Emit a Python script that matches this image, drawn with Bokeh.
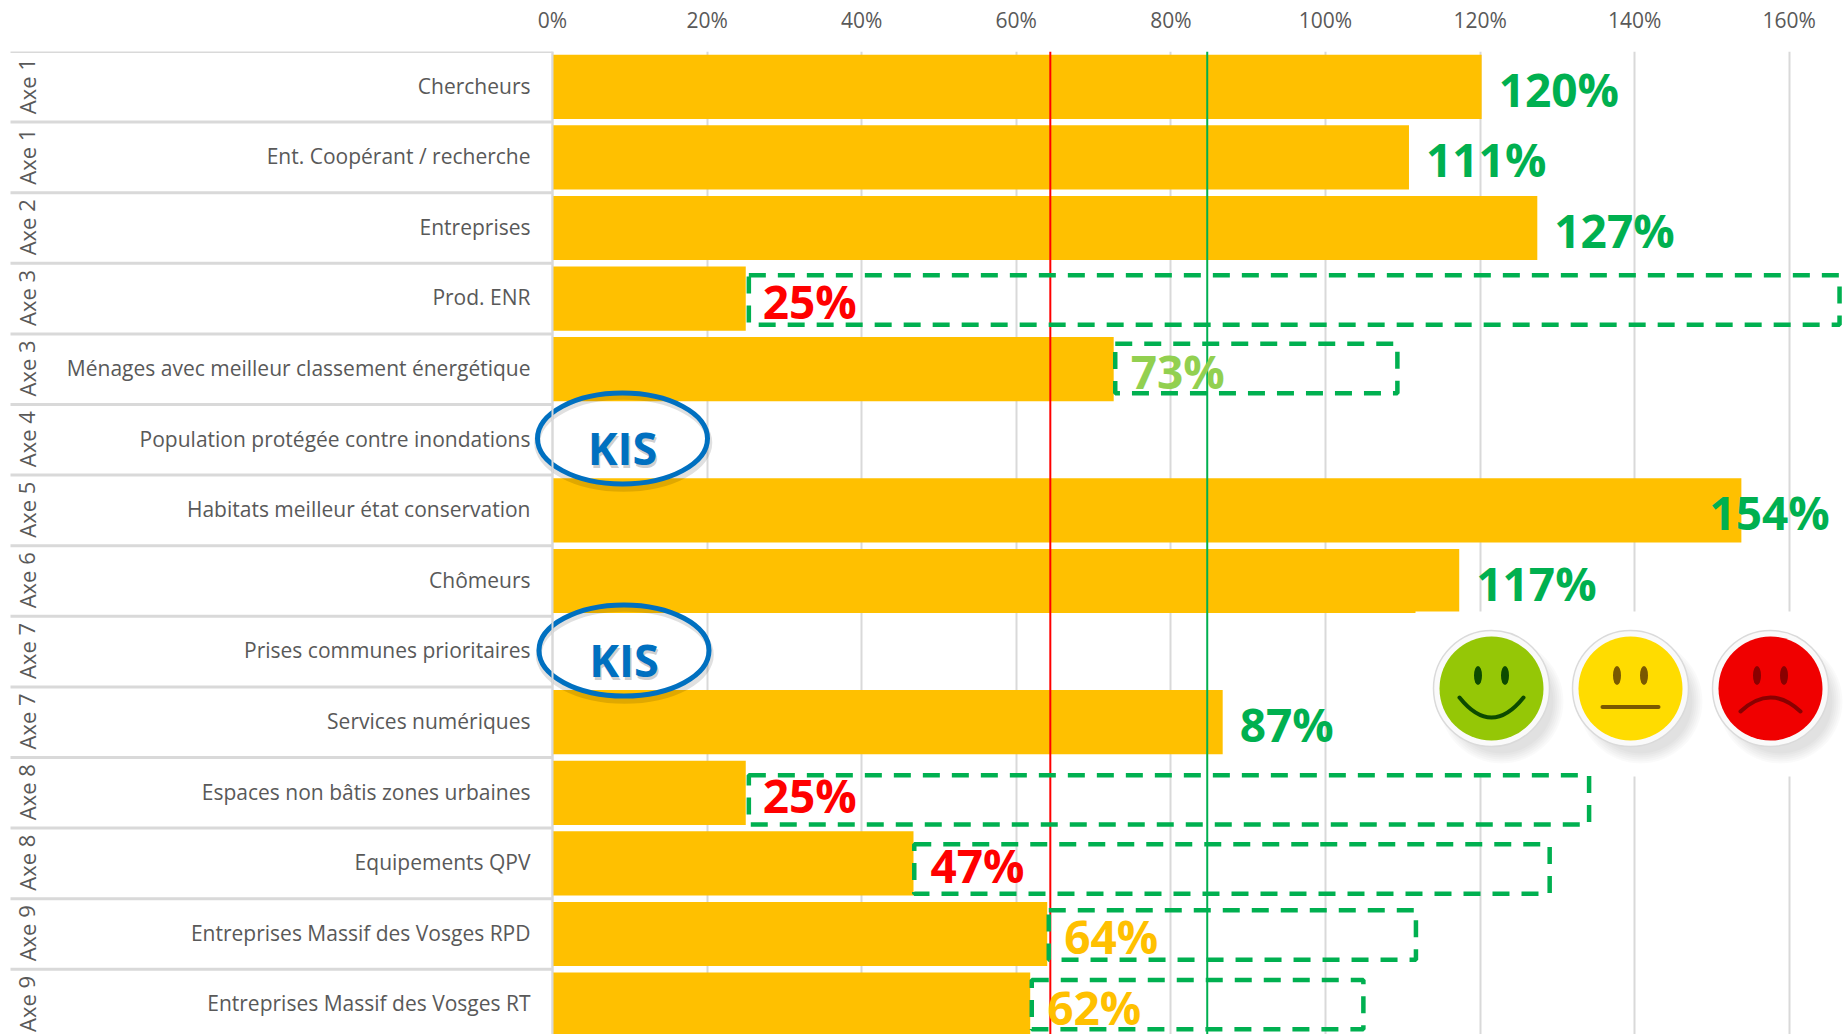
from bokeh.plotting import figure
from bokeh.embed import file_html
from bokeh.resources import INLINE
from bokeh.models import FixedTicker, PrintfTickFormatter, Range1d, ColumnDataSource
from bokeh.core.properties import value

axes_names = ["Axe 1","Axe 1","Axe 2","Axe 3","Axe 3","Axe 4","Axe 5","Axe 6","Axe 7","Axe 7","Axe 8","Axe 8","Axe 9","Axe 9"]
categories = ["Chercheurs","Ent. Coopérant / recherche","Entreprises","Prod. ENR",
              "Ménages avec meilleur classement énergétique","Population protégée contre inondations",
              "Habitats meilleur état conservation","Chômeurs","Prises communes prioritaires",
              "Services numériques","Espaces non bâtis zones urbaines","Equipements QPV",
              "Entreprises Massif des Vosges RPD","Entreprises Massif des Vosges RT"]
achieved = [120.2,110.8,127.4,25,72.6,None,153.8,117.3,None,86.7,25,46.7,64,61.8]
target_rows = [3,4,10,11,12,13]
target_start = [25.4,72.8,25.4,46.8,64.2,62.0]
target_end = [166.5,109.3,134.1,129.0,111.7,104.9]
red_threshold = 64.4
green_threshold = 84.7
x_ticks = [0,20,40,60,80,100,120,140,160]

GREEN="#00B050"; LIGHT="#92D050"; AMBER="#FFC000"; RED="#FF0000"; BLUE="#0070C0"
GRID="#D9D9D9"; TXT="#595959"

def X(px): return (px-552)/7.73
def Y(py): return (py-51)/70.6-0.5

p = figure(width=1844, height=1034, output_backend="svg", toolbar_location=None,
           x_axis_location="above",
           x_range=Range1d(X(0),X(1844)), y_range=Range1d(Y(1034),-0.5),
           min_border_left=0,min_border_right=0,min_border_bottom=0,min_border_top=51)
p.outline_line_color=None
p.background_fill_color="white"
p.ygrid.visible=False
p.xgrid.ticker=FixedTicker(ticks=x_ticks)
p.xgrid.grid_line_color=GRID; p.xgrid.grid_line_width=2

xa=p.xaxis[0]
xa.ticker=FixedTicker(ticks=x_ticks)
xa.formatter=PrintfTickFormatter(format="%d%%")
xa.axis_line_color=None; xa.major_tick_line_color=None; xa.minor_tick_line_color=None
xa.major_tick_out=0; xa.major_tick_in=0
xa.major_label_text_font="Open Sans"; xa.major_label_text_font_size="21px"
xa.major_label_text_color=TXT; xa.major_label_standoff=18

ya=p.yaxis[0]
ya.fixed_location=0
label_ticks=[i-0.016 for i in range(14)]
ya.ticker=FixedTicker(ticks=label_ticks)
ya.major_label_overrides={t:c for t,c in zip(label_ticks,categories)}
ya.axis_line_color=GRID; ya.axis_line_width=2
ya.major_tick_line_color=None; ya.major_tick_out=0; ya.major_tick_in=0
ya.minor_tick_line_color=None; ya.minor_tick_out=0; ya.minor_tick_in=0
ya.major_label_standoff=22
ya.major_label_text_font="Open Sans"; ya.major_label_text_font_size="21px"
ya.major_label_text_color=TXT

# row separators on the label side
seps=[i-0.5 for i in range(15)]
p.segment(x0=X(10),x1=0,y0=seps,y1=seps,line_color=GRID,line_width=3)

# bars
rows=[i for i,v in enumerate(achieved) if v is not None]
vals=[achieved[i] for i in rows]
p.hbar(y=rows,left=0,right=vals,height=0.91,fill_color=AMBER,line_color=None)

# white panel behind the smileys
p.quad(left=X(1415),right=X(1844),top=Y(611),bottom=Y(776),fill_color="white",line_color=None)

# threshold lines
p.segment(x0=[red_threshold,green_threshold],x1=[red_threshold,green_threshold],
          y0=-0.5,y1=Y(1034),line_color=[RED,GREEN],line_width=2)

# dashed targets
centre_shift=[0.02,-0.01,0.10,0.08,0.015,0.0]
p.quad(left=target_start,right=target_end,
       top=[r+s-0.35 for r,s in zip(target_rows,centre_shift)],
       bottom=[r+s+0.35 for r,s in zip(target_rows,centre_shift)],
       fill_color=None,line_color=GREEN,line_width=4.5,line_dash="17 12")

# value labels
def col(v):
    if v>=84: return GREEN
    if v>=70: return LIGHT
    if v>=60: return AMBER
    return RED
src=ColumnDataSource(dict(x=vals,y=rows,t=[f"{round(v)}%" for v in vals],c=[col(v) for v in vals],
     off=[-32 if v>150 else 17 for v in vals]))
p.text(x="x",y="y",text="t",text_color="c",x_offset="off",y_offset=2,source=src,
       text_font=value("Open Sans"),text_font_style="bold",text_font_size="46px",
       text_baseline="middle",text_align="left")

# Axe labels
p.text(x=[X(26)]*14,y=[i-0.01 for i in range(14)],text=axes_names,angle=1.5708,text_color=TXT,
       text_font=value("Open Sans"),text_font_size="22px",text_align="center",text_baseline="middle")

# KIS ellipses
kx=[X(622),X(623.5)]
ky=[Y(438),Y(650)]
p.ellipse(x=[k+0.1 for k in kx],y=[k+0.06 for k in ky],width=172,height=92,width_units="screen",height_units="screen",
          fill_color=None,line_color="#000000",line_alpha=0.12,line_width=6)
p.ellipse(x=kx,y=ky,width=170,height=91,width_units="screen",height_units="screen",
          fill_color=None,line_color=BLUE,line_width=5)
p.text(x=[k+0.2 for k in kx],y=[k+0.17 for k in ky],text=["KIS"]*len(kx),text_color="#000000",text_alpha=0.2,
       text_font=value("Open Sans"),text_font_style="bold",text_font_size="45px",text_align="center",text_baseline="middle")
p.text(x=kx,y=[k+0.13 for k in ky],text=["KIS"]*len(kx),text_color=BLUE,
       text_font=value("Open Sans"),text_font_style="bold",text_font_size="45px",text_align="center",text_baseline="middle")

# smileys
cx=[1491,1630,1770]; cy=688
face=["#95C706","#FFDC00","#F00000"]; eye=["#0C4A00","#7A5800","#8A0000"]
for step in range(6):
    p.ellipse(x=[X(c+10) for c in cx],y=[Y(cy+13)]*3,width=124-step*4,height=124-step*4,
              width_units="screen",height_units="screen",fill_color="#000000",fill_alpha=0.018,line_color=None)
p.ellipse(x=[X(c) for c in cx],y=[Y(cy)]*3,width=116,height=116,width_units="screen",height_units="screen",
          fill_color="#FAFAFA",line_color="#DADADA",line_width=1.5)
p.ellipse(x=[X(c) for c in cx],y=[Y(cy)]*3,width=104,height=104,width_units="screen",height_units="screen",
          fill_color=face,line_color=None)
for dx in (-13.5,13.5):
    p.ellipse(x=[X(c+dx) for c in cx],y=[Y(cy-13)]*3,width=8,height=19,width_units="screen",height_units="screen",
              fill_color=eye,line_color=None)
p.quadratic(x0=[X(cx[0]-32)],y0=[Y(697)],x1=[X(cx[0]+32)],y1=[Y(697)],cx=[X(cx[0])],cy=[Y(737)],
            line_color=eye[0],line_width=4,line_cap="round")
p.segment(x0=[X(cx[1]-28)],x1=[X(cx[1]+28)],y0=[Y(706.5)],y1=[Y(706.5)],line_color=eye[1],line_width=4,line_cap="round")
p.quadratic(x0=[X(cx[2]-30)],y0=[Y(711)],x1=[X(cx[2]+30)],y1=[Y(711)],cx=[X(cx[2])],cy=[Y(683)],
            line_color=eye[2],line_width=4,line_cap="round")

open("out.html","w").write(file_html(p,INLINE))
